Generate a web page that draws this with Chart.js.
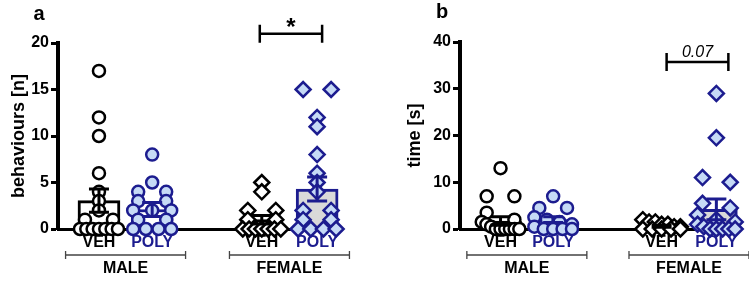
<!DOCTYPE html>
<html>
<head>
<meta charset="utf-8">
<script src="https://cdn.jsdelivr.net/npm/chart.js@4.4.0/dist/chart.umd.min.js"></script>
<style>
    html, body { margin: 0; padding: 0; background: #fff; }
    #wrap { position: relative; width: 749px; height: 281px; }
    #chart_a { position: absolute; left: 0; top: 0; }
    #chart_b { position: absolute; left: 375px; top: 0; }
</style>
</head>
<body>
<div id="wrap">
    <canvas id="chart_a" width="375" height="281"></canvas>
    <canvas id="chart_b" width="374" height="281"></canvas>
</div>
<script>
// groups, in order: male veh, male poly, female veh, female poly
const groups = ['VEH', 'POLY', 'VEH', 'POLY'];
const sexes = ['MALE', 'FEMALE'];
const groupPos = [0.77, 1.77, 3.83, 4.87];

// panel a - behaviours [n]
const a_male_veh = [17, 12, 10, 6, 4, 3, 2, 1, 1, 0, 0, 0, 0, 0, 0, 0];
const a_male_poly = [8, 5, 4, 4, 3, 3, 2, 2, 2, 1, 1, 0, 0, 0, 0];
const a_female_veh = [5, 4, 2, 2, 1, 1, 0, 0, 0, 0, 0, 0, 0];
const a_female_poly = [15, 15, 12, 11, 8, 6, 5, 4, 2, 2, 1, 1, 0, 0, 0, 0];
const a_mean = [3.05, 2.1, 1.0, 4.3];
const a_sem = [1.25, 0.75, 0.45, 1.3];
const a_ticks = [0, 5, 10, 15, 20];

// panel b - time [s]
const b_male_veh = [13, 7, 7, 3.5, 2, 1.5, 1, 0.5, 0, 0, 0, 0, 0, 0];
const b_male_poly = [7, 4.5, 4.5, 2.5, 2, 1.5, 1, 0.5, 0, 0, 0, 0];
const b_female_veh = [2, 1.5, 1.5, 1, 1, 0.5, 0.5, 0, 0, 0, 0, 0];
const b_female_poly = [29, 19.5, 11, 10, 5.5, 4.5, 3, 2, 1.5, 1, 0.5, 0, 0, 0, 0, 0];
const b_mean = [1.7, 2.0, 0.6, 4.2];
const b_sem = [0.9, 0.6, 0.2, 2.2];
const b_ticks = [0, 10, 20, 30, 40];

const X_MAX = 5.3;
const PLOT_W = 282;
const PLOT_H = 186;
const DARK_BLUE = '#1c1c8f';
const LIGHT_BLUE = '#c6daf6';
const BAR_GREY = '#d9d9d9';
const FONT = "'Liberation Sans', Arial, sans-serif";

// spread points that sit on (nearly) the same value into a symmetric row
function swarm(values, yMax, center) {
    const pxY = PLOT_H / yMax;
    const pxX = PLOT_W / X_MAX;
    const rows = [];
    values.forEach(function(v) {
        const last = rows[rows.length - 1];
        if (last && (last.top - v) * pxY < 8) {
            last.vals.push(v);
        } else {
            rows.push({ top: v, vals: [v] });
        }
    });
    const out = [];
    rows.forEach(function(r) {
        const n = r.vals.length;
        const gap = n > 1 ? Math.min(28, 38 / (n - 1)) : 0;
        r.vals.forEach(function(v, j) {
            const off = (j - (n - 1) / 2) * gap;
            out.push({ x: center + off / pxX, y: v });
        });
    });
    return out;
}

const decor = {
    id: 'decor',
    afterDatasetsDraw(chart, args, opts) {
        const ctx = chart.ctx;
        const x = chart.scales.x;
        const y = chart.scales.y;
        ctx.save();

        // error bars (mean +/- sem)
        opts.mean.forEach(function(m, i) {
            const cx = x.getPixelForValue(groupPos[i]);
            const top = y.getPixelForValue(m + opts.sem[i]);
            const bot = y.getPixelForValue(Math.max(0, m - opts.sem[i]));
            ctx.strokeStyle = i % 2 ? DARK_BLUE : '#000';
            ctx.lineWidth = 3;
            ctx.beginPath();
            ctx.moveTo(cx, top); ctx.lineTo(cx, bot);
            ctx.moveTo(cx - 10, top); ctx.lineTo(cx + 10, top);
            ctx.moveTo(cx - 10, bot); ctx.lineTo(cx + 10, bot);
            ctx.stroke();
        });

        // panel letter
        ctx.fillStyle = '#000';
        ctx.font = 'bold 20px ' + FONT;
        ctx.textAlign = 'center';
        ctx.textBaseline = 'middle';
        ctx.fillText(opts.letter, opts.letterX, opts.letterY);

        // group names under the bars
        ctx.font = 'bold 16px ' + FONT;
        groups.forEach(function(g, i) {
            ctx.fillStyle = i % 2 ? DARK_BLUE : '#000';
            ctx.fillText(g, x.getPixelForValue(groupPos[i]), 243);
        });

        // sex brackets
        sexes.forEach(function(s, k) {
            const c = (x.getPixelForValue(groupPos[2 * k]) + x.getPixelForValue(groupPos[2 * k + 1])) / 2;
            ctx.strokeStyle = '#444';
            ctx.lineWidth = 1.3;
            ctx.beginPath();
            ctx.moveTo(c - 60, 255); ctx.lineTo(c + 60, 255);
            ctx.moveTo(c - 60, 251); ctx.lineTo(c - 60, 259);
            ctx.moveTo(c + 60, 251); ctx.lineTo(c + 60, 259);
            ctx.stroke();
            ctx.fillStyle = '#000';
            ctx.font = 'bold 16px ' + FONT;
            ctx.fillText(s, c, 269);
        });

        // significance bracket
        const x1 = x.getPixelForValue(groupPos[2]) + opts.sig.dx[0];
        const x2 = x.getPixelForValue(groupPos[3]) + opts.sig.dx[1];
        const sy = y.getPixelForValue(opts.sig.level);
        ctx.strokeStyle = '#000';
        ctx.lineWidth = 2.5;
        ctx.beginPath();
        ctx.moveTo(x1, sy); ctx.lineTo(x2, sy);
        ctx.moveTo(x1, sy - 9); ctx.lineTo(x1, sy + 9);
        ctx.moveTo(x2, sy - 9); ctx.lineTo(x2, sy + 9);
        ctx.stroke();
        ctx.font = opts.sig.font;
        ctx.fillText(opts.sig.text, (x1 + x2) / 2, sy + opts.sig.textDy);

        ctx.restore();
    }
};

function make_chart(id, cfg) {
    const points = cfg.points.map(function(vals, i) {
        return swarm(vals, cfg.yMax, groupPos[i]);
    });

    const datasets = [{
        type: 'bar',
        data: groupPos.map(function(p, i) { return { x: p, y: cfg.mean[i] }; }),
        backgroundColor: ['#fff', '#fff', '#fff', BAR_GREY],
        borderColor: ['#000', DARK_BLUE, '#000', DARK_BLUE],
        borderWidth: 3,
        barThickness: 42,
        order: 2
    }];

    points.forEach(function(d, i) {
        datasets.push({
            type: 'scatter',
            data: d,
            pointStyle: i < 2 ? 'circle' : 'rectRot',
            pointRadius: i < 2 ? 6 : 7.5,
            backgroundColor: i % 2 ? LIGHT_BLUE : '#fff',
            borderColor: i % 2 ? DARK_BLUE : '#000',
            borderWidth: 2.5,
            clip: false,
            order: 1
        });
    });

    return new Chart(document.getElementById(id), {
        type: 'scatter',
        data: { datasets: datasets },
        options: {
            responsive: false,
            animation: false,
            devicePixelRatio: 1,
            layout: { padding: { left: 0, right: cfg.padRight, top: cfg.padTop, bottom: 0 } },
            plugins: {
                legend: { display: false },
                tooltip: { enabled: false },
                decor: cfg.decor
            },
            scales: {
                x: {
                    type: 'linear',
                    min: 0,
                    max: X_MAX,
                    offset: false,
                    ticks: { display: false },
                    grid: { display: false },
                    border: { color: '#000', width: 3 },
                    afterFit: function(s) { s.height = 52; }
                },
                y: {
                    min: 0,
                    max: cfg.yMax,
                    afterBuildTicks: function(s) {
                        s.ticks = cfg.ticks.map(function(v) { return { value: v }; });
                    },
                    ticks: {
                        color: '#000',
                        padding: 2,
                        font: { family: FONT, size: 16, weight: 'bold' }
                    },
                    grid: { drawOnChartArea: false, tickLength: 7, tickColor: '#000', tickWidth: 3 },
                    border: { color: '#000', width: 4 },
                    title: {
                        display: true,
                        text: cfg.title,
                        color: '#000',
                        font: { family: FONT, size: 18, weight: 'bold' },
                        padding: { top: cfg.titlePad, bottom: 0 }
                    },
                    afterFit: function(s) { s.width = cfg.yWidth; }
                }
            }
        },
        plugins: [decor]
    });
}

make_chart('chart_a', {
    points: [a_male_veh, a_male_poly, a_female_veh, a_female_poly],
    mean: a_mean,
    yMax: 20,
    ticks: a_ticks,
    title: 'behaviours [n]',
    titlePad: 8,
    yWidth: 58,
    padRight: 35,
    padTop: 43,
    decor: {
        mean: a_mean, sem: a_sem,
        letter: 'a', letterX: 39, letterY: 14,
        sig: { text: '*', font: 'bold 24px ' + FONT, level: 21, dx: [-2, 5], textDy: -5 }
    }
});

make_chart('chart_b', {
    points: [b_male_veh, b_male_poly, b_female_veh, b_female_poly],
    mean: b_mean,
    yMax: 40,
    ticks: b_ticks,
    title: 'time [s]',
    titlePad: 29,
    yWidth: 85,
    padRight: 7,
    padTop: 42,
    decor: {
        mean: b_mean, sem: b_sem,
        letter: 'b', letterX: 67, letterY: 12,
        sig: { text: '0.07', font: 'italic 16px ' + FONT, level: 35.7, dx: [5, 12], textDy: -10 }
    }
});
</script>
</body>
</html>
